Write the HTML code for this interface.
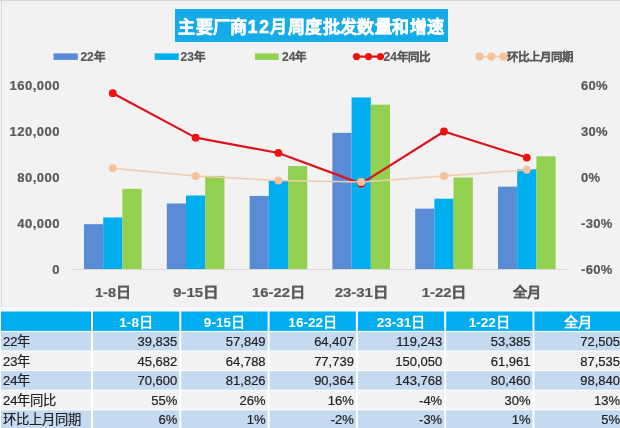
<!DOCTYPE html>
<html lang="zh-CN"><head><meta charset="utf-8"><style>
html,body{margin:0;padding:0;}
body{width:620px;height:428px;overflow:hidden;position:relative;background:#fff;font-family:"Liberation Sans",sans-serif;}
#wrap{position:absolute;left:0;top:0;width:620px;height:428px;will-change:transform;}
#chart{position:absolute;left:0;top:0;width:620px;height:307px;background:#f2f2f2;}
#bt{position:absolute;left:0;top:0;width:620px;height:1px;background:#d6d6d6;}
#bl{position:absolute;left:1px;top:0;width:1px;height:307px;background:#dadada;}
svg{position:absolute;left:0;top:0;}
.ax{font-family:"Liberation Sans",sans-serif;font-weight:bold;font-size:13px;fill:#595959;stroke:#595959;stroke-width:0.2px;}
.lg{font-family:"Liberation Sans",sans-serif;font-weight:bold;font-size:12px;fill:#595959;stroke:#595959;stroke-width:0.2px;}
#title{position:absolute;left:174.5px;top:9px;width:273.7px;height:33px;background:#13abe8;color:#fff;font-weight:bold;font-size:17px;letter-spacing:0.4px;line-height:37px;text-align:center;white-space:nowrap;-webkit-text-stroke:0.5px #fff;}
.th,.tl,.td{position:absolute;font-size:13px;white-space:nowrap;box-sizing:border-box;line-height:20px;height:20px;}
.cj{font-size:13.3px;}
.th .cj{font-size:14.2px;}
.th{color:#fff;font-weight:bold;text-align:center;font-size:13.6px;}
.tl{color:#222;padding-left:2px;-webkit-text-stroke:0.2px #222;}
.td{color:#222;text-align:right;padding-right:2px;-webkit-text-stroke:0.2px #222;}
</style></head><body><div id="wrap">
<div id="chart"></div><div id="bt"></div><div id="bl"></div>
<svg width="620" height="308" viewBox="0 0 620 308">
<rect x="84.00" y="224.19" width="19.20" height="45.81" fill="#5a8bd5"/>
<rect x="103.20" y="217.47" width="19.20" height="52.53" fill="#00adef"/>
<rect x="122.40" y="188.81" width="19.20" height="81.19" fill="#92d050"/>
<rect x="166.80" y="203.47" width="19.20" height="66.53" fill="#5a8bd5"/>
<rect x="186.00" y="195.49" width="19.20" height="74.51" fill="#00adef"/>
<rect x="205.20" y="175.90" width="19.20" height="94.10" fill="#92d050"/>
<rect x="249.60" y="195.93" width="19.20" height="74.07" fill="#5a8bd5"/>
<rect x="268.80" y="180.60" width="19.20" height="89.40" fill="#00adef"/>
<rect x="288.00" y="166.08" width="19.20" height="103.92" fill="#92d050"/>
<rect x="332.40" y="132.87" width="19.20" height="137.13" fill="#5a8bd5"/>
<rect x="351.60" y="97.44" width="19.20" height="172.56" fill="#00adef"/>
<rect x="370.80" y="104.67" width="19.20" height="165.33" fill="#92d050"/>
<rect x="415.20" y="208.61" width="19.20" height="61.39" fill="#5a8bd5"/>
<rect x="434.40" y="198.74" width="19.20" height="71.26" fill="#00adef"/>
<rect x="453.60" y="177.47" width="19.20" height="92.53" fill="#92d050"/>
<rect x="498.00" y="186.62" width="19.20" height="83.38" fill="#5a8bd5"/>
<rect x="517.20" y="169.33" width="19.20" height="100.67" fill="#00adef"/>
<rect x="536.40" y="156.33" width="19.20" height="113.67" fill="#92d050"/>
<line x1="71.5" y1="269.5" x2="567.5" y2="269.5" stroke="#d9d9d9" stroke-width="1"/>
<polyline points="112.80,93.17 195.60,137.63 278.40,152.97 361.20,183.63 444.00,131.50 526.80,157.57" fill="none" stroke="#dc141c" stroke-width="2.2" stroke-linejoin="round"/>
<circle cx="112.80" cy="93.17" r="3.9" fill="#f01010"/>
<circle cx="195.60" cy="137.63" r="3.9" fill="#f01010"/>
<circle cx="278.40" cy="152.97" r="3.9" fill="#f01010"/>
<circle cx="361.20" cy="183.63" r="3.9" fill="#f01010"/>
<circle cx="444.00" cy="131.50" r="3.9" fill="#f01010"/>
<circle cx="526.80" cy="157.57" r="3.9" fill="#f01010"/>
<polyline points="112.80,168.30 195.60,175.97 278.40,180.57 361.20,182.10 444.00,175.97 526.80,169.83" fill="none" stroke="#f2cbb0" stroke-width="1.5"/>
<circle cx="112.80" cy="168.30" r="4.0" fill="#f5c29a"/>
<circle cx="195.60" cy="175.97" r="4.0" fill="#f5c29a"/>
<circle cx="278.40" cy="180.57" r="4.0" fill="#f5c29a"/>
<circle cx="361.20" cy="182.10" r="4.0" fill="#f5c29a"/>
<circle cx="444.00" cy="175.97" r="4.0" fill="#f5c29a"/>
<circle cx="526.80" cy="169.83" r="4.0" fill="#f5c29a"/>
<text x="60" y="90.2" text-anchor="end" class="ax" letter-spacing="0.5">160,000</text>
<text x="60" y="136.2" text-anchor="end" class="ax" letter-spacing="0.5">120,000</text>
<text x="60" y="182.2" text-anchor="end" class="ax" letter-spacing="0.5">80,000</text>
<text x="60" y="228.2" text-anchor="end" class="ax" letter-spacing="0.5">40,000</text>
<text x="60" y="274.2" text-anchor="end" class="ax" letter-spacing="0.5">0</text>
<text x="581" y="90.2" class="ax" letter-spacing="0.3">60%</text>
<text x="581" y="136.2" class="ax" letter-spacing="0.3">30%</text>
<text x="581" y="182.2" class="ax" letter-spacing="0.3">0%</text>
<text x="581" y="228.2" class="ax" letter-spacing="0.3">-30%</text>
<text x="581" y="274.2" class="ax" letter-spacing="0.3">-60%</text>
<text x="112.80" y="297" text-anchor="middle" class="ax" textLength="35.6" lengthAdjust="spacingAndGlyphs"><tspan style="">1-8</tspan><tspan style="font-size:13.5px">日</tspan></text>
<text x="195.60" y="297" text-anchor="middle" class="ax" textLength="45.2" lengthAdjust="spacingAndGlyphs"><tspan style="">9-15</tspan><tspan style="font-size:13.5px">日</tspan></text>
<text x="278.40" y="297" text-anchor="middle" class="ax" textLength="52.6" lengthAdjust="spacingAndGlyphs"><tspan style="">16-22</tspan><tspan style="font-size:13.5px">日</tspan></text>
<text x="361.20" y="297" text-anchor="middle" class="ax" textLength="53.1" lengthAdjust="spacingAndGlyphs"><tspan style="">23-31</tspan><tspan style="font-size:13.5px">日</tspan></text>
<text x="444.00" y="297" text-anchor="middle" class="ax" textLength="44.6" lengthAdjust="spacingAndGlyphs"><tspan style="">1-22</tspan><tspan style="font-size:13.5px">日</tspan></text>
<text x="526.80" y="297" text-anchor="middle" class="ax" textLength="27.4" lengthAdjust="spacingAndGlyphs"><tspan style="font-size:13.5px">全月</tspan></text>
<rect x="53.5" y="53.4" width="24.3" height="6.5" fill="#5a8bd5"/>
<text x="80.4" y="60.5" class="lg"><tspan style="">22</tspan><tspan style="font-size:11.5px;letter-spacing:0px">年</tspan></text>
<rect x="154.7" y="53.4" width="24" height="6.5" fill="#00adef"/>
<text x="180.5" y="60.5" class="lg"><tspan style="">23</tspan><tspan style="font-size:11.5px;letter-spacing:0px">年</tspan></text>
<rect x="255" y="53.4" width="23.7" height="6.5" fill="#92d050"/>
<text x="282" y="60.5" class="lg"><tspan style="">24</tspan><tspan style="font-size:11.5px;letter-spacing:0px">年</tspan></text>
<line x1="356.5" y1="56.6" x2="380.5" y2="56.6" stroke="#dc141c" stroke-width="2.2"/>
<circle cx="356.5" cy="56.6" r="3.6" fill="#f01010"/>
<circle cx="368.5" cy="56.6" r="3.6" fill="#f01010"/>
<circle cx="380.5" cy="56.6" r="3.6" fill="#f01010"/>
<text x="383.5" y="60.5" class="lg"><tspan style="">24</tspan><tspan style="font-size:11.5px;letter-spacing:0px">年同比</tspan></text>
<line x1="479.4" y1="56.6" x2="503.4" y2="56.6" stroke="#f2cbb0" stroke-width="1.8"/>
<circle cx="479.4" cy="56.6" r="4.1" fill="#f5c29a"/>
<circle cx="491.4" cy="56.6" r="4.1" fill="#f5c29a"/>
<circle cx="503.4" cy="56.6" r="4.1" fill="#f5c29a"/>
<text x="506.5" y="60.5" class="lg"><tspan style="font-size:11.5px;letter-spacing:0px">环比上月同期</tspan></text>
</svg>
<svg width="620" height="428" viewBox="0 0 620 428" style="top:0">
<rect x="0" y="307" width="620" height="4.5" fill="#f7f7f7"/>
<rect x="1.00" y="311.50" width="90.00" height="19.40" fill="#00aeef"/>
<rect x="93.00" y="311.50" width="86.30" height="19.40" fill="#00aeef"/>
<rect x="181.30" y="311.50" width="86.30" height="19.40" fill="#00aeef"/>
<rect x="269.60" y="311.50" width="86.30" height="19.40" fill="#00aeef"/>
<rect x="357.90" y="311.50" width="86.30" height="19.40" fill="#00aeef"/>
<rect x="446.20" y="311.50" width="86.30" height="19.40" fill="#00aeef"/>
<rect x="534.50" y="311.50" width="87.50" height="19.40" fill="#00aeef"/>
<rect x="1.00" y="331.90" width="90.00" height="18.60" fill="#c5d9f1"/>
<rect x="93.00" y="331.90" width="86.30" height="18.60" fill="#c5d9f1"/>
<rect x="181.30" y="331.90" width="86.30" height="18.60" fill="#c5d9f1"/>
<rect x="269.60" y="331.90" width="86.30" height="18.60" fill="#c5d9f1"/>
<rect x="357.90" y="331.90" width="86.30" height="18.60" fill="#c5d9f1"/>
<rect x="446.20" y="331.90" width="86.30" height="18.60" fill="#c5d9f1"/>
<rect x="534.50" y="331.90" width="87.50" height="18.60" fill="#c5d9f1"/>
<rect x="1.00" y="351.50" width="90.00" height="18.60" fill="#f2f2f2"/>
<rect x="93.00" y="351.50" width="86.30" height="18.60" fill="#f2f2f2"/>
<rect x="181.30" y="351.50" width="86.30" height="18.60" fill="#f2f2f2"/>
<rect x="269.60" y="351.50" width="86.30" height="18.60" fill="#f2f2f2"/>
<rect x="357.90" y="351.50" width="86.30" height="18.60" fill="#f2f2f2"/>
<rect x="446.20" y="351.50" width="86.30" height="18.60" fill="#f2f2f2"/>
<rect x="534.50" y="351.50" width="87.50" height="18.60" fill="#f2f2f2"/>
<rect x="1.00" y="371.10" width="90.00" height="18.60" fill="#c5d9f1"/>
<rect x="93.00" y="371.10" width="86.30" height="18.60" fill="#c5d9f1"/>
<rect x="181.30" y="371.10" width="86.30" height="18.60" fill="#c5d9f1"/>
<rect x="269.60" y="371.10" width="86.30" height="18.60" fill="#c5d9f1"/>
<rect x="357.90" y="371.10" width="86.30" height="18.60" fill="#c5d9f1"/>
<rect x="446.20" y="371.10" width="86.30" height="18.60" fill="#c5d9f1"/>
<rect x="534.50" y="371.10" width="87.50" height="18.60" fill="#c5d9f1"/>
<rect x="1.00" y="390.70" width="90.00" height="18.60" fill="#f2f2f2"/>
<rect x="93.00" y="390.70" width="86.30" height="18.60" fill="#f2f2f2"/>
<rect x="181.30" y="390.70" width="86.30" height="18.60" fill="#f2f2f2"/>
<rect x="269.60" y="390.70" width="86.30" height="18.60" fill="#f2f2f2"/>
<rect x="357.90" y="390.70" width="86.30" height="18.60" fill="#f2f2f2"/>
<rect x="446.20" y="390.70" width="86.30" height="18.60" fill="#f2f2f2"/>
<rect x="534.50" y="390.70" width="87.50" height="18.60" fill="#f2f2f2"/>
<rect x="1.00" y="410.30" width="90.00" height="17.70" fill="#c5d9f1"/>
<rect x="93.00" y="410.30" width="86.30" height="17.70" fill="#c5d9f1"/>
<rect x="181.30" y="410.30" width="86.30" height="17.70" fill="#c5d9f1"/>
<rect x="269.60" y="410.30" width="86.30" height="17.70" fill="#c5d9f1"/>
<rect x="357.90" y="410.30" width="86.30" height="17.70" fill="#c5d9f1"/>
<rect x="446.20" y="410.30" width="86.30" height="17.70" fill="#c5d9f1"/>
<rect x="534.50" y="410.30" width="87.50" height="17.70" fill="#c5d9f1"/>
</svg>
<div id="title">主要厂商<span style="font-size:17.5px;letter-spacing:1.6px">12</span>月周度批发数量和增速</div>
<div class="th" style="left:1.0px;top:311.80px;width:90.0px"></div>
<div class="th" style="left:93.0px;top:311.80px;width:86.3px">1-8<span class="cj">日</span></div>
<div class="th" style="left:181.3px;top:311.80px;width:86.3px">9-15<span class="cj">日</span></div>
<div class="th" style="left:269.6px;top:311.80px;width:86.3px">16-22<span class="cj">日</span></div>
<div class="th" style="left:357.9px;top:311.80px;width:86.3px">23-31<span class="cj">日</span></div>
<div class="th" style="left:446.2px;top:311.80px;width:86.3px">1-22<span class="cj">日</span></div>
<div class="th" style="left:534.5px;top:311.80px;width:87.5px"><span class="cj">全月</span></div>
<div class="tl" style="left:1.0px;top:331.90px;width:90.0px">22<span class="cj">年</span></div>
<div class="td" style="left:93.0px;top:331.90px;width:86.3px">39,835</div>
<div class="td" style="left:181.3px;top:331.90px;width:86.3px">57,849</div>
<div class="td" style="left:269.6px;top:331.90px;width:86.3px">64,407</div>
<div class="td" style="left:357.9px;top:331.90px;width:86.3px">119,243</div>
<div class="td" style="left:446.2px;top:331.90px;width:86.3px">53,385</div>
<div class="td" style="left:534.5px;top:331.90px;width:87.5px">72,505</div>
<div class="tl" style="left:1.0px;top:351.50px;width:90.0px">23<span class="cj">年</span></div>
<div class="td" style="left:93.0px;top:351.50px;width:86.3px">45,682</div>
<div class="td" style="left:181.3px;top:351.50px;width:86.3px">64,788</div>
<div class="td" style="left:269.6px;top:351.50px;width:86.3px">77,739</div>
<div class="td" style="left:357.9px;top:351.50px;width:86.3px">150,050</div>
<div class="td" style="left:446.2px;top:351.50px;width:86.3px">61,961</div>
<div class="td" style="left:534.5px;top:351.50px;width:87.5px">87,535</div>
<div class="tl" style="left:1.0px;top:371.10px;width:90.0px">24<span class="cj">年</span></div>
<div class="td" style="left:93.0px;top:371.10px;width:86.3px">70,600</div>
<div class="td" style="left:181.3px;top:371.10px;width:86.3px">81,826</div>
<div class="td" style="left:269.6px;top:371.10px;width:86.3px">90,364</div>
<div class="td" style="left:357.9px;top:371.10px;width:86.3px">143,768</div>
<div class="td" style="left:446.2px;top:371.10px;width:86.3px">80,460</div>
<div class="td" style="left:534.5px;top:371.10px;width:87.5px">98,840</div>
<div class="tl" style="left:1.0px;top:390.70px;width:90.0px">24<span class="cj">年同比</span></div>
<div class="td" style="left:93.0px;top:390.70px;width:86.3px">55%</div>
<div class="td" style="left:181.3px;top:390.70px;width:86.3px">26%</div>
<div class="td" style="left:269.6px;top:390.70px;width:86.3px">16%</div>
<div class="td" style="left:357.9px;top:390.70px;width:86.3px">-4%</div>
<div class="td" style="left:446.2px;top:390.70px;width:86.3px">30%</div>
<div class="td" style="left:534.5px;top:390.70px;width:87.5px">13%</div>
<div class="tl" style="left:1.0px;top:410.30px;width:90.0px"><span class="cj">环比上月同期</span></div>
<div class="td" style="left:93.0px;top:410.30px;width:86.3px">6%</div>
<div class="td" style="left:181.3px;top:410.30px;width:86.3px">1%</div>
<div class="td" style="left:269.6px;top:410.30px;width:86.3px">-2%</div>
<div class="td" style="left:357.9px;top:410.30px;width:86.3px">-3%</div>
<div class="td" style="left:446.2px;top:410.30px;width:86.3px">1%</div>
<div class="td" style="left:534.5px;top:410.30px;width:87.5px">5%</div>
</div></body></html>
